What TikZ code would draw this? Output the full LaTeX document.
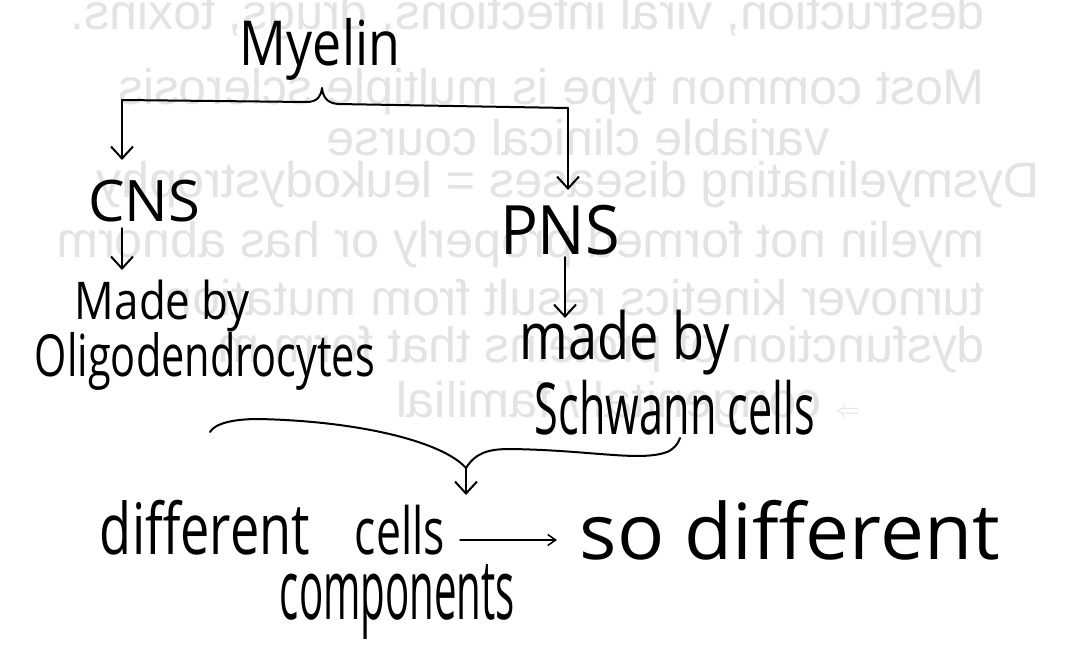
\documentclass[tikz,border=0pt]{standalone}
\usepackage{fontspec}
\setmainfont{Open Sans}
\newfontfamily\printfont{Liberation Sans}
\usetikzlibrary{arrows.meta}
\newcommand{\hwbox}[3]{\resizebox*{#1pt}{#2pt}{#3}}
\tikzset{
  hw/.style={inner sep=0pt, outer sep=0pt, text=black},
  faded/.style={inner sep=0pt, anchor=east, text=black!11, font=\printfont\fontsize{50}{56}\selectfont},
  pen/.style={line width=2pt, black, line cap=round, line join=round},
  arr/.style={pen, -{Straight Barb[length=12pt,width=22pt]}},
  smallarr/.style={line width=1.5pt, black, line cap=round, -{Straight Barb[length=8pt,width=11pt]}}
}
\begin{document}
\begin{tikzpicture}[x=1pt,y=-1pt]
\useasboundingbox (0,0) rectangle (1084,646);
\fill[white] (0,0) rectangle (1084,646);
\clip (0,0) rectangle (1084,646);
% faint show-through of the reverse page
\node[faded] (f1) at (985,17) {\reflectbox{destruction, viral infections, drugs, toxins.}};
\node[faded] (f2) at (985,92) {\reflectbox{Most common type is multiple sclerosis}};
\node[faded] (f3) at (830,138) {\reflectbox{variable clinical course}};
\node[faded] (f4) at (1040,185) {\reflectbox{Dysmyelinating diseases = leukodystrophy}};
\node[faded] (f5) at (985,245) {\reflectbox{myelin not formed properly or has abnorm}};
\node[faded] (f6) at (985,298) {\reflectbox{turnover kinetics result from mutation}};
\node[faded] (f7) at (985,350) {\reflectbox{dysfunction of proteins that form m}};
\node[faded] (f8) at (860,405) {\reflectbox{$\Rightarrow$ congenital / familial}};
% handwritten notes
\node[hw] (myelin) at (320,49) {\hwbox{160}{62}{Myelin}};
\node[hw] (cns) at (144,201) {\hwbox{112}{42}{CNS}};
\node[hw] (madeL) at (162.5,306) {\hwbox{175}{52}{Made by}};
\node[hw] (oligo) at (205,361) {\hwbox{340}{58}{Oligodendrocytes}};
\node[hw] (pns) at (560,230) {\hwbox{120}{50}{PNS}};
\node[hw] (madeR) at (625,342.5) {\hwbox{210}{65}{made by}};
\node[hw] (schwann) at (675,407.5) {\hwbox{280}{55}{Schwann cells}};
\node[hw] (diff) at (205,527.5) {\hwbox{210}{55}{different}};
\node[hw] (cells) at (400,530) {\hwbox{90}{50}{cells}};
\node[hw] (sodiff) at (790,530) {\hwbox{420}{60}{so different}};
\node[hw] (comp) at (397.5,602.5) {\hwbox{235}{75}{components}};
% top bracket
\coordinate (bl) at (122,100);
\coordinate (bn) at (322,88);
\coordinate (br) at (568,108);
\draw[pen] (bl) -- (306,102) .. controls (318,102) and (321,96) .. (bn)
  .. controls (323,96) and (326,103) .. (338,104) -- (br);
\draw[arr] (bl) -- ([yshift=20pt]cns.north -| bl);
\draw[arr] (br) -- ([yshift=15pt]pns.north -| br);
\coordinate (cl) at (122,0);
\draw[arr] ([yshift=-6pt]cns.south -| cl) -- ([yshift=10pt]madeL.north -| cl);
\coordinate (pl) at (565,0);
\draw[arr] ([yshift=-2pt]pns.south -| pl) -- ([yshift=-8pt]madeR.north -| pl);
% bottom brace
\coordinate (bL) at (210,432);
\coordinate (bN) at (466,468);
\coordinate (bR) at (680,438);
\draw[pen] (bL) .. controls (215,423) and (235,419) .. (258,419)
  .. controls (360,421) and (443,442) .. (bN)
  .. controls (476,452) and (490,449) .. (510,449)
  .. controls (590,450) and (640,462) .. (667,452)
  .. controls (674,449) and (678,444) .. (bR);
\draw[arr] (bN) -- ([yshift=10pt]cells.north -| bN);
\coordinate (ca) at (460,540);
\coordinate (cb) at (557,540);
\draw[smallarr] (ca) -- (cb);
\end{tikzpicture}
\end{document}
